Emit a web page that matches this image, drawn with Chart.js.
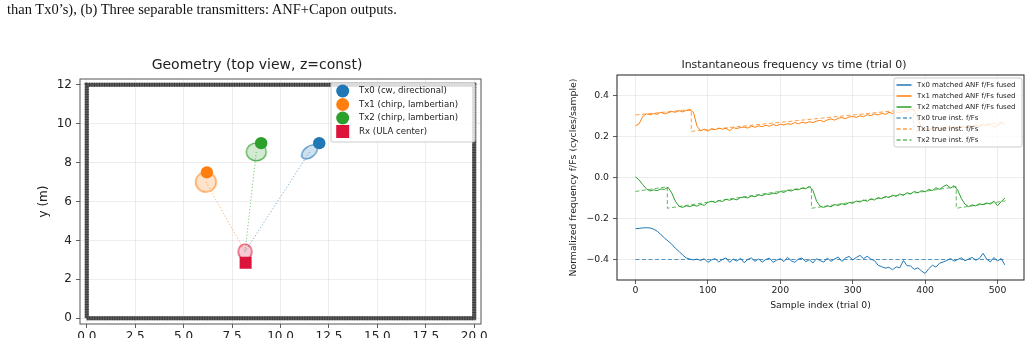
<!DOCTYPE html>
<html>
<head>
<meta charset="utf-8">
<script src="https://cdn.jsdelivr.net/npm/chart.js@4.4.0/dist/chart.umd.min.js"></script>
<style>
  html, body { margin: 0; padding: 0; background: #fff; overflow: hidden; }
  body { width: 1031px; height: 338px; position: relative; }
  #geo { position: absolute; left: 0; top: 0; }
  #freq { position: absolute; left: 520px; top: 0; }
  #caption { position: absolute; left: 7px; top: 1px; z-index: 2; font: 14.5px "Liberation Serif", serif; line-height: 1.15; color: #111; white-space: nowrap; }
</style>
</head>
<body>
<canvas id="geo" width="520" height="338"></canvas>
<canvas id="freq" width="511" height="338"></canvas>
<div id="caption">than Tx0’s), (b) Three separable transmitters: ANF+Capon outputs.</div>
<script>
// ---- (a) room geometry, metres ----
const roomX = [0, 20, 20, 0, 0];
const roomY = [0, 0, 12, 12, 0];
const txNames = ["Tx0 (cw, directional)", "Tx1 (chirp, lambertian)", "Tx2 (chirp, lambertian)"];
const txX = [12.0, 6.2, 9.0];
const txY = [9.0, 7.5, 9.0];
const txEstX = [11.5, 6.15, 8.75];
const txEstY = [8.55, 7.0, 8.55];
const rxX = [8.2];
const rxY = [2.85];
const rxEstX = [8.17];
const rxEstY = [3.42];
const geoTicksX = [0, 2.5, 5, 7.5, 10, 12.5, 15, 17.5, 20];
const geoTicksY = [0, 2, 4, 6, 8, 10, 12];

// ---- (b) instantaneous frequency, trial 0 (fused tracks read every 5 samples) ----
const fusedStep = 5;
const fusedTx0 = [
  -0.250, -0.248, -0.246, -0.245, -0.246, -0.252, -0.262, -0.278, -0.295, -0.310,
  -0.325, -0.345, -0.360, -0.378, -0.392, -0.398, -0.402, -0.398, -0.405, -0.396,
  -0.414, -0.402, -0.396, -0.412, -0.400, -0.392, -0.414, -0.398, -0.408, -0.394,
  -0.416, -0.400, -0.392, -0.409, -0.397, -0.413, -0.400, -0.393, -0.414, -0.403,
  -0.396, -0.410, -0.390, -0.406, -0.414, -0.398, -0.393, -0.411, -0.401, -0.417,
  -0.396, -0.405, -0.413, -0.393, -0.409, -0.397, -0.388, -0.410, -0.393, -0.385,
  -0.402, -0.390, -0.380, -0.396, -0.384, -0.398, -0.405, -0.428, -0.435, -0.442,
  -0.438, -0.450, -0.436, -0.440, -0.405, -0.430, -0.432, -0.448, -0.441, -0.456,
  -0.468, -0.445, -0.428, -0.437, -0.418, -0.412, -0.405, -0.395, -0.408, -0.400,
  -0.392, -0.406, -0.398, -0.390, -0.403, -0.395, -0.370, -0.398, -0.412, -0.390,
  -0.408, -0.395, -0.426
];
const fusedTx1 = [
  0.252, 0.262, 0.298, 0.310, 0.306, 0.312, 0.308, 0.318, 0.311, 0.316,
  0.322, 0.318, 0.326, 0.320, 0.327, 0.329, 0.318, 0.250, 0.228, 0.236,
  0.226, 0.238, 0.233, 0.241, 0.236, 0.240, 0.228, 0.243, 0.239, 0.244,
  0.246, 0.241, 0.250, 0.245, 0.252, 0.248, 0.255, 0.250, 0.258, 0.253,
  0.260, 0.256, 0.263, 0.259, 0.268, 0.262, 0.270, 0.265, 0.272, 0.268,
  0.275, 0.279, 0.272, 0.281, 0.286, 0.280, 0.289, 0.292, 0.287, 0.295,
  0.298, 0.293, 0.301, 0.297, 0.306, 0.302, 0.310, 0.305, 0.313, 0.308,
  0.318, 0.312, 0.320, 0.315, 0.325, 0.322, 0.332, 0.330, 0.285, 0.245,
  0.236, 0.242, 0.238, 0.245, 0.236, 0.242, 0.248, 0.240, 0.246, 0.239,
  0.248, 0.244, 0.252, 0.246, 0.255, 0.249, 0.258, 0.252, 0.262, 0.244,
  0.255, 0.268, 0.258
];
const fusedTx2 = [
  0.003, -0.012, -0.035, -0.055, -0.066, -0.060, -0.064, -0.056, -0.058, -0.048,
  -0.075, -0.115, -0.140, -0.146, -0.138, -0.142, -0.135, -0.140, -0.130, -0.136,
  -0.121, -0.116, -0.122, -0.113, -0.117, -0.106, -0.111, -0.104, -0.109, -0.098,
  -0.095, -0.100, -0.090, -0.094, -0.085, -0.089, -0.080, -0.083, -0.076, -0.079,
  -0.068, -0.073, -0.062, -0.066, -0.058, -0.060, -0.052, -0.055, -0.044, -0.062,
  -0.115, -0.140, -0.146, -0.138, -0.143, -0.132, -0.137, -0.128, -0.133, -0.122,
  -0.126, -0.115, -0.120, -0.110, -0.116, -0.104, -0.110, -0.098, -0.104, -0.092,
  -0.098, -0.086, -0.092, -0.080, -0.087, -0.074, -0.080, -0.068, -0.075, -0.064,
  -0.070, -0.058, -0.064, -0.050, -0.058, -0.044, -0.036, -0.052, -0.040, -0.062,
  -0.102, -0.130, -0.142, -0.134, -0.138, -0.128, -0.133, -0.124, -0.130, -0.115,
  -0.138, -0.118, -0.100
];
const trueTx0X = [0, 511];
const trueTx0Y = [-0.4, -0.4];
const trueTx1X = [0, 77, 77, 384, 384, 511];
const trueTx1Y = [0.305, 0.332, 0.225, 0.335, 0.225, 0.270];
const trueTx2X = [0, 44, 44, 243, 243, 443, 443, 511];
const trueTx2Y = [-0.068, -0.045, -0.150, -0.045, -0.150, -0.045, -0.150, -0.114];
const freqTicksX = [0, 100, 200, 300, 400, 500];
const freqTicksY = [-0.4, -0.2, 0, 0.2, 0.4];

const FONT = "DejaVu Sans";
const INK = "#222";
const txColors = ["#1f77b4", "#ff7f0e", "#2ca02c"];
const RX_COLOR = "#dc143c";

function rgba(hex, a) {
  const n = parseInt(hex.slice(1), 16);
  return `rgba(${n >> 16},${(n >> 8) & 255},${n & 255},${a})`;
}
function pts(xs, ys) { return xs.map((x, i) => ({ x: x, y: ys[i] })); }
function stepPts(ys) { return ys.map((y, i) => ({ x: i * fusedStep, y: y })); }

// small canvas used as a point style for the shaded estimate ellipses
function ellipseMark(hex, rx, ry, deg) {
  const c = document.createElement("canvas");
  const s = Math.ceil(2 * Math.max(rx, ry) + 4);
  c.width = s; c.height = s;
  const g = c.getContext("2d");
  g.beginPath();
  g.ellipse(s / 2, s / 2, rx, ry, deg * Math.PI / 180, 0, 2 * Math.PI);
  g.fillStyle = rgba(hex, 0.22);
  g.fill();
  g.lineWidth = 1.2;
  g.strokeStyle = rgba(hex, 0.85);
  g.stroke();
  return c;
}

// full axes frame like matplotlib spines
const frame = {
  id: "frame",
  afterDatasetsDraw(chart, args, o) {
    const a = chart.chartArea, ctx = chart.ctx;
    ctx.save();
    ctx.strokeStyle = o.color || "#333";
    ctx.lineWidth = o.width || 1;
    ctx.strokeRect(a.left, a.top, a.right - a.left, a.bottom - a.top);
    ctx.restore();
  }
};

// legend box drawn inside the plot, upper right
const boxLegend = {
  id: "boxLegend",
  afterDraw(chart, args, o) {
    const ctx = chart.ctx, a = chart.chartArea;
    const items = chart.data.datasets.filter(d => d.label);
    const x0 = a.right - o.right - o.width, y0 = a.top + o.top;
    ctx.save();
    ctx.beginPath();
    ctx.roundRect(x0, y0, o.width, o.height, 2);
    ctx.fillStyle = "rgba(255,255,255,0.8)";
    ctx.fill();
    ctx.strokeStyle = "rgba(200,200,200,0.9)";
    ctx.lineWidth = 1;
    ctx.stroke();
    ctx.font = o.fontSize + "px '" + FONT + "'";
    ctx.textBaseline = "middle";
    items.forEach((d, i) => {
      const cy = y0 + o.firstRow + i * o.rowH;
      const sx = x0 + o.symbolX;
      if (d.symbol === "line") {
        ctx.beginPath();
        ctx.setLineDash(d.borderDash || []);
        ctx.strokeStyle = d.borderColor;
        ctx.lineWidth = 1.5;
        ctx.moveTo(sx, cy);
        ctx.lineTo(sx + o.symbolW, cy);
        ctx.stroke();
        ctx.setLineDash([]);
      } else if (d.symbol === "circle") {
        ctx.beginPath();
        ctx.arc(sx, cy, o.markR, 0, 2 * Math.PI);
        ctx.fillStyle = d.backgroundColor;
        ctx.fill();
      } else if (d.symbol === "rect") {
        ctx.fillStyle = d.backgroundColor;
        ctx.fillRect(sx - o.markR, cy - o.markR, 2 * o.markR, 2 * o.markR);
      }
      ctx.fillStyle = INK;
      ctx.fillText(d.label, x0 + o.textX, cy);
    });
    ctx.restore();
  }
};

function axisCommon(size, ticks, fmt, pad) {
  return {
    type: "linear",
    afterBuildTicks: s => { s.ticks = ticks.map(v => ({ value: v })); },
    ticks: { callback: fmt, font: { family: FONT, size: size }, color: INK, padding: pad, autoSkip: false, maxRotation: 0 },
    grid: { color: "rgba(0,0,0,0.09)", lineWidth: 0.8, tickColor: "#333", tickLength: 4, tickWidth: 0.8 },
    border: { display: false }
  };
}

// ---------- left panel ----------
const geoSets = [];
txNames.forEach((name, i) => geoSets.push({
  label: name, symbol: "circle",
  data: [{ x: txX[i], y: txY[i] }],
  pointStyle: "circle", pointRadius: 6.2, borderWidth: 0,
  backgroundColor: txColors[i], borderColor: txColors[i], order: 1
}));
geoSets.push({
  label: "Rx (ULA center)", symbol: "rect",
  data: pts(rxX, rxY),
  pointStyle: "rect", pointRadius: 8.5, borderWidth: 0,
  backgroundColor: RX_COLOR, borderColor: RX_COLOR, order: 1
});
const estShape = [[9, 5.5, -38], [10.2, 10, 0], [10, 8.8, 0]];
txNames.forEach((name, i) => geoSets.push({
  data: [{ x: txEstX[i], y: txEstY[i] }],
  pointStyle: ellipseMark(txColors[i], estShape[i][0], estShape[i][1], estShape[i][2]),
  pointRadius: 10, order: 2
}));
geoSets.push({ data: pts(rxEstX, rxEstY), pointStyle: ellipseMark(RX_COLOR, 6.8, 7.5, 0), pointRadius: 8, order: 2 });
txNames.forEach((name, i) => geoSets.push({
  data: [{ x: txEstX[i], y: txEstY[i] }, { x: rxEstX[0], y: rxEstY[0] }],
  showLine: true, pointRadius: 0, borderWidth: 1, borderDash: [1.2, 2],
  borderColor: rgba(txColors[i], 0.6), order: 3
}));
// room walls: thick grey with a faint texture
geoSets.push({ data: pts(roomX, roomY), showLine: true, pointRadius: 0, borderWidth: 4, borderColor: "#3c3c3c", borderDash: [1, 1.5], order: 4 });
geoSets.push({ data: pts(roomX, roomY), showLine: true, pointRadius: 0, borderWidth: 4, borderColor: "#5a5a5a", order: 5 });

const geoX = axisCommon(12, geoTicksX, v => v.toFixed(1), 1.5);
geoX.min = -0.35; geoX.max = 20.35;
geoX.afterFit = s => { s.height = 14; };
const geoY = axisCommon(12, geoTicksY, v => String(v), 4);
geoY.min = -0.3; geoY.max = 12.3;
geoY.title = { display: true, text: "y (m)", font: { family: FONT, size: 12 }, color: INK, padding: { top: 4, bottom: 4 } };
geoY.afterFit = s => { s.width = 47; };

new Chart(document.getElementById("geo"), {
  type: "scatter",
  data: { datasets: geoSets },
  options: {
    responsive: false, animation: false, devicePixelRatio: 1, events: [],
    layout: { padding: { left: 33, right: 39, top: 0, bottom: 0 } },
    scales: { x: geoX, y: geoY },
    plugins: {
      legend: { display: false }, tooltip: { enabled: false },
      title: { display: true, text: "Geometry (top view, z=const)", color: INK, font: { family: FONT, size: 14, weight: "normal" }, padding: { top: 57, bottom: 5.2 } },
      frame: { color: "#555", width: 1 },
      boxLegend: { right: 6, top: 3.5, width: 144, height: 59.5, firstRow: 8.5, rowH: 13.5, symbolX: 11.7, markR: 6.5, textX: 28, fontSize: 8.6 }
    }
  },
  plugins: [frame, boxLegend]
});

// ---------- right panel ----------
const freqSets = [
  { label: "Tx0 matched ANF f/Fs fused", symbol: "line", data: stepPts(fusedTx0), borderColor: txColors[0] },
  { label: "Tx1 matched ANF f/Fs fused", symbol: "line", data: stepPts(fusedTx1), borderColor: txColors[1] },
  { label: "Tx2 matched ANF f/Fs fused", symbol: "line", data: stepPts(fusedTx2), borderColor: txColors[2] },
  { label: "Tx0 true inst. f/Fs", symbol: "line", data: pts(trueTx0X, trueTx0Y), borderColor: rgba(txColors[0], 0.75), borderDash: [4, 2.5] },
  { label: "Tx1 true inst. f/Fs", symbol: "line", data: pts(trueTx1X, trueTx1Y), borderColor: rgba(txColors[1], 0.75), borderDash: [4, 2.5] },
  { label: "Tx2 true inst. f/Fs", symbol: "line", data: pts(trueTx2X, trueTx2Y), borderColor: rgba(txColors[2], 0.75), borderDash: [4, 2.5] }
].map((d, i) => Object.assign(d, { showLine: true, pointRadius: 0, borderWidth: 1, order: i < 3 ? 2 : 1 }));

const freqX = axisCommon(9.3, freqTicksX, v => String(v), 1);
freqX.min = -25.55; freqX.max = 536.55;
freqX.title = { display: true, text: "Sample index (trial 0)", font: { family: FONT, size: 9.3 }, color: INK, padding: { top: 4, bottom: 4 } };
freqX.afterFit = s => { s.height = 35; };
const freqY = axisCommon(9.3, freqTicksY, v => (v < 0 ? "\u2212" : "") + Math.abs(v).toFixed(1), 4);
freqY.min = -0.5; freqY.max = 0.5;
freqY.title = { display: true, text: "Normalized frequency f/Fs (cycles/sample)", font: { family: FONT, size: 9.3 }, color: INK, padding: { top: 4, bottom: 4 } };
freqY.afterFit = s => { s.width = 53; };

new Chart(document.getElementById("freq"), {
  type: "scatter",
  data: { datasets: freqSets },
  options: {
    responsive: false, animation: false, devicePixelRatio: 1, events: [],
    layout: { padding: { left: 44, right: 7, top: 0, bottom: 23 } },
    scales: { x: freqX, y: freqY },
    plugins: {
      legend: { display: false }, tooltip: { enabled: false },
      title: { display: true, text: "Instantaneous frequency vs time (trial 0)", color: INK, font: { family: FONT, size: 11, weight: "normal" }, padding: { top: 58.4, bottom: 3.4 } },
      frame: { color: "#333", width: 1.1 },
      boxLegend: { right: 2, top: 3, width: 128, height: 69, firstRow: 7, rowH: 11, symbolX: 2.5, symbolW: 15, textX: 23, fontSize: 7 }
    }
  },
  plugins: [frame, boxLegend]
});
</script>
</body>
</html>
